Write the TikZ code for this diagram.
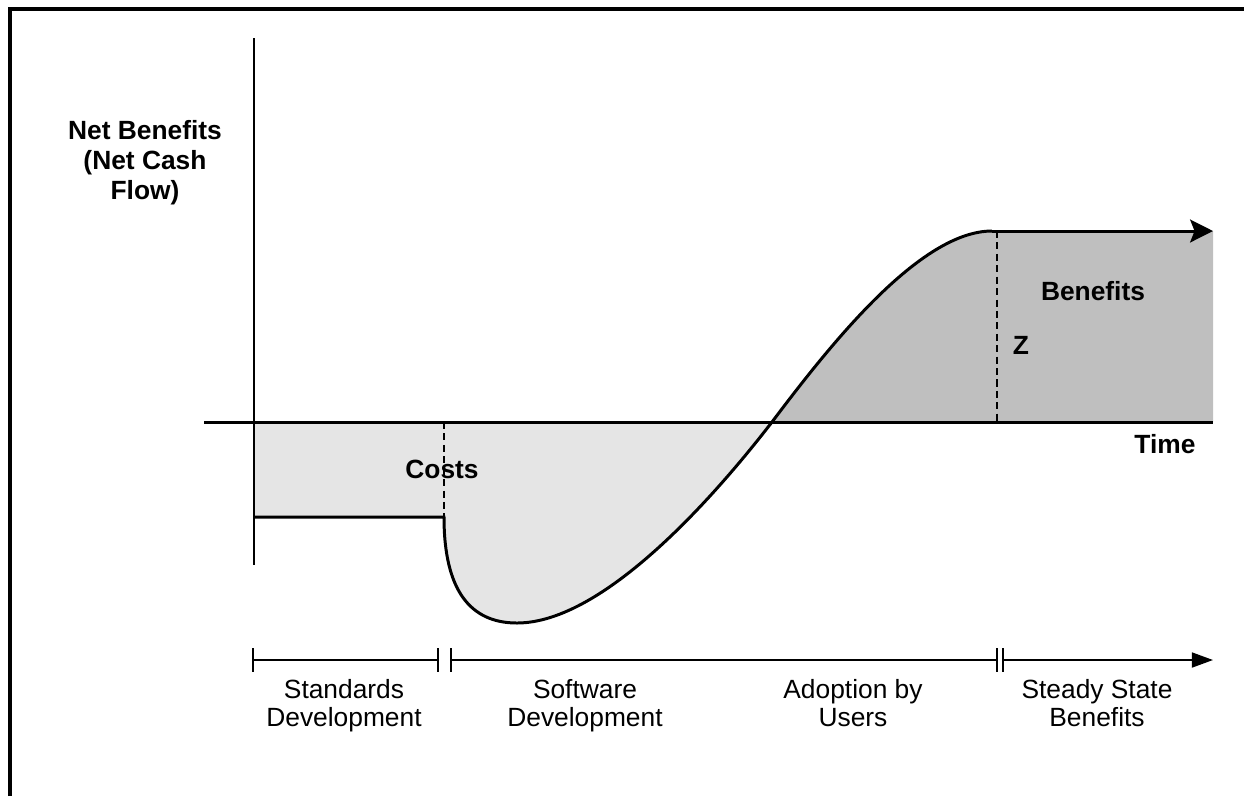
\documentclass[tikz,border=0pt]{standalone}
\usepackage{fontspec}
\setmainfont{Liberation Sans}
\usetikzlibrary{positioning,calc,arrows.meta}

\begin{document}
\begin{tikzpicture}[x=0.02cm,y=-0.02cm]
  \tikzstyle{lbl}=[font=\fontsize{15}{17}\selectfont\bfseries, align=center, inner sep=0pt]
  \tikzstyle{phase}=[font=\fontsize{15}{16}\selectfont, align=center, inner sep=0pt, anchor=north]
  \tikzstyle{axis}=[line width=1.7pt]
  \tikzstyle{curve}=[line width=1.7pt]
  \tikzstyle{guide}=[line width=1.1pt, dash pattern=on 4pt off 2.5pt]
  \tikzstyle{bar}=[line width=1.1pt]

  \useasboundingbox (0,0) rectangle (1244,796);
  \draw[line width=2.3pt] (10,796) -- (10,9) -- (1244,9);

  % points of the cash flow curve
  \coordinate (o) at (254,422);
  \coordinate (cs) at (254,517);
  \coordinate (sd) at (444,517);
  \coordinate (sdax) at (444,422);
  \coordinate (low) at (517,623);
  \coordinate (cross) at (772,422);
  \coordinate (top) at (992,231);
  \coordinate (z) at (997,231);
  \coordinate (zax) at (997,422);
  \coordinate (e) at (1213,231);
  \coordinate (eax) at (1213,422);

  % shaded areas
  \fill[gray!20] (o) rectangle (sd);
  \fill[gray!20] (sdax) -- (sd) .. controls (444,590) and (470,623) .. (low)
     .. controls (605,623) and (718,492) .. (cross) -- cycle;
  \fill[black!25] (cross) .. controls (830,345) and (920,231) .. (top) -- (e) -- (eax) -- cycle;

  % axes
  \draw[axis] (204,422) -- (1213,422);
  \draw[line width=1.1pt] (254,38) -- (254,565);

  % curve
  \draw[curve] (cs) -- (sd) .. controls (444,590) and (470,623) .. (low)
     .. controls (605,623) and (718,492) .. (cross)
     .. controls (830,345) and (920,231) .. (top);
  \draw[curve, -{Stealth[length=13pt,width=13pt,inset=2.5pt]}] (top) -- (e);
  \draw[guide] (sdax) -- (sd);
  \draw[guide] (z) -- (zax);

  % labels
  \node[lbl] (yl) at (145,163) {Net Benefits\\(Net Cash\\Flow)};
  \node[lbl] (costs) at (442,469) {Costs};
  \node[lbl] (ben) at (1093,291) {Benefits};
  \node[lbl] (zl) at (1021,345) {Z};
  \node[lbl] (time) at (1165,444) {Time};

  % phases
  \draw[bar] (253,660) -- (438,660);
  \draw[bar] (451,660) -- (997,660);
  \draw[bar, -{Triangle[length=12pt,width=8.5pt]}] (1003,660) -- (1213,660);
  \foreach \t in {253,438,451,997,1003}
    \draw[bar] (\t,648) -- (\t,672);

  \node[phase] (p1) at (344,679) {Standards\\Development};
  \node[phase] (p2) at (585,679) {Software\\Development};
  \node[phase] (p3) at (853,679) {Adoption by\\Users};
  \node[phase] (p4) at (1097,679) {Steady State\\Benefits};
\end{tikzpicture}
\end{document}
